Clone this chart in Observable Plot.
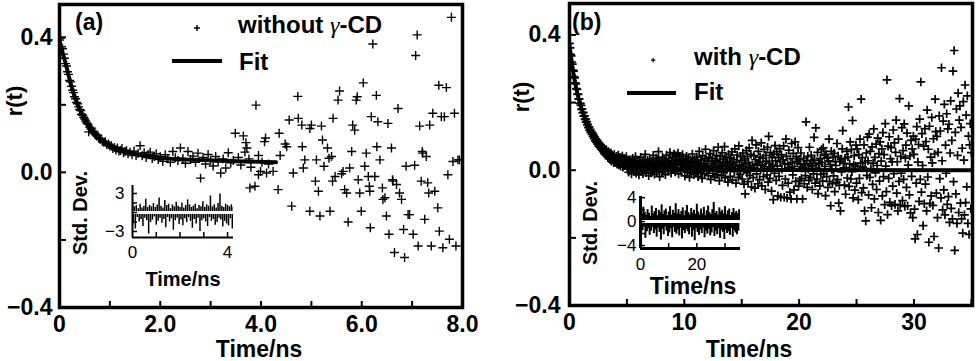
<!DOCTYPE html>
<html><head><meta charset="utf-8">
<script src="https://cdn.jsdelivr.net/npm/d3@7"></script>
<script src="https://cdn.jsdelivr.net/npm/@observablehq/plot@0.6"></script>
<style>
html,body{margin:0;padding:0;background:#fff;}
#root{position:relative;width:976px;height:361px;overflow:hidden;font-family:"Liberation Sans",Arial,Helvetica,sans-serif;font-weight:bold;color:#000;background:#fff;}
#root > svg{position:absolute;}
.lbl{position:absolute;white-space:nowrap;line-height:1;}
.g{font-family:"Liberation Serif","DejaVu Serif",serif;font-style:italic;font-weight:normal;}
.legline{position:absolute;background:#000;}
</style></head><body><div id="root"></div>
<script>
// ---------------- DATA ----------------
// Panel (a): without gamma-CD, measured anisotropy r(t) [time ns, r]
const pointsA = [
[0.00,0.392],[0.02,0.398],[0.04,0.372],[0.06,0.366],[0.08,0.350],[0.10,0.338],[0.12,0.322],[0.14,0.315],[0.16,0.298],[0.18,0.290],
[0.20,0.272],[0.22,0.268],[0.24,0.255],[0.26,0.243],[0.28,0.236],[0.30,0.224],[0.32,0.218],[0.34,0.207],[0.36,0.203],[0.38,0.194],
[0.40,0.186],[0.42,0.183],[0.44,0.172],[0.46,0.169],[0.48,0.163],[0.50,0.158],[0.52,0.152],[0.54,0.146],[0.56,0.143],[0.58,0.120],
[0.60,0.134],[0.62,0.128],[0.64,0.131],[0.66,0.121],[0.68,0.118],[0.70,0.114],[0.72,0.112],[0.74,0.108],[0.76,0.110],[0.78,0.101],
[0.80,0.099],[0.82,0.098],[0.85,0.092],[0.88,0.089],[0.91,0.091],[0.94,0.082],[0.97,0.084],[1.00,0.078],[1.03,0.079],[1.06,0.071],
[1.09,0.074],[1.12,0.066],[1.15,0.072],[1.18,0.063],[1.21,0.065],[1.24,0.071],[1.27,0.058],[1.30,0.061],[1.33,0.064],[1.36,0.055],
[1.40,0.060],[1.44,0.052],[1.48,0.063],[1.52,0.050],[1.56,0.056],[1.60,0.079],[1.64,0.049],[1.68,0.058],[1.72,0.044],[1.76,0.053],
[1.80,0.060],[1.84,0.041],[1.88,0.047],[1.92,0.055],[1.96,0.038],[2.00,0.046],[2.05,0.033],[2.10,0.052],[2.15,0.040],[2.20,0.030],
[2.25,0.062],[2.30,0.043],[2.35,0.035],[2.40,0.072],[2.45,0.041],[2.50,0.027],[2.55,0.062],[2.60,0.038],[2.65,0.048],[2.70,0.030],
[2.75,0.057],[2.80,-0.017],[2.85,0.044],[2.90,0.025],[2.95,0.053],[3.00,0.036],[3.05,0.019],[3.10,0.047],[3.15,0.031],[3.20,-0.002],
[3.25,0.040],[3.30,0.013],[3.35,0.058],[3.40,0.028],[3.45,0.035],[3.49,0.116],[3.55,0.044],[3.60,0.022],[3.65,0.108],[3.68,0.060],
[3.70,0.088],[3.72,0.072],[3.76,0.040],[3.80,0.015],[3.90,0.199],[3.95,0.050],[4.02,0.030],[4.15,0.025],
[3.78,-0.046],[3.88,-0.041],[3.95,-0.007],[3.99,0.003],[4.09,0.102],[4.07,0.091],[4.11,-0.002],[4.24,0.003],[4.36,0.116],[4.38,0.050],
[4.34,-0.051],[4.48,0.084],[4.51,0.076],[4.56,0.155],[4.64,-0.002],[4.61,-0.100],[4.73,0.225],[4.74,0.160],[4.81,0.140],[4.82,0.076],
[4.84,0.013],[4.87,0.037],[4.97,0.130],[5.00,0.140],[4.97,-0.115],[5.08,-0.026],[5.10,0.037],[5.14,-0.056],[5.17,-0.129],[5.20,0.137],
[5.22,0.096],[5.25,0.018],[5.32,0.072],[5.35,0.042],[5.40,0.047],[5.37,-0.115],[5.42,-0.026],[5.43,0.160],[5.47,-0.012],[5.53,0.214],
[5.56,0.241],[5.60,-0.004],[5.63,0.003],[5.66,-0.051],[5.70,-0.061],[5.73,-0.147],[5.76,0.013],[5.80,0.062],[5.82,0.140],[5.86,0.125],
[5.89,0.214],[5.91,0.224],[5.93,-0.022],[5.96,-0.061],[5.99,-0.115],[6.03,0.265],[6.06,0.018],[6.09,0.057],[6.13,-0.012],[6.15,-0.041],
[6.16,-0.056],[6.17,-0.164],[6.19,0.165],[6.22,0.380],[6.26,-0.012],[6.29,0.228],[6.30,0.076],[6.32,0.150],[6.36,0.037],[6.41,-0.046],
[6.42,-0.080],[6.46,-0.075],[6.49,-0.129],[6.52,0.145],[6.54,-0.183],[6.59,0.072],[6.61,-0.022],[6.62,-0.026],[6.65,-0.237],[6.69,-0.036],
[6.72,0.189],[6.75,-0.061],[6.79,-0.080],[6.83,-0.169],[6.85,-0.252],[6.88,0.018],[6.92,-0.125],[6.95,-0.125],[7.02,-0.183],[7.05,0.021],
[7.07,0.346],[7.10,0.407],[7.12,-0.218],[7.15,0.137],[7.18,-0.026],[7.20,0.062],[7.21,0.057],[7.25,-0.139],[7.28,0.047],[7.31,-0.031],
[7.33,-0.061],[7.35,0.140],[7.38,-0.218],[7.41,0.175],[7.45,-0.056],[7.51,-0.105],[7.53,0.258],[7.54,-0.174],[7.58,0.165],[7.61,-0.223],
[7.64,0.165],[7.68,0.251],[7.71,-0.007],[7.74,-0.198],[7.78,0.459],[7.81,0.032],[7.84,0.175],[7.87,-0.218],[7.91,0.037],[7.94,0.037]
];
// Panel (a) fit curve
const fitA_t = [0, 0.06, 0.12, 0.22, 0.32, 0.45, 0.58, 0.75, 0.91, 1.11, 1.38, 1.77, 2.24, 2.90, 3.49, 4.30];
const fitA_r = [0.390, 0.355, 0.323, 0.264, 0.215, 0.171, 0.136, 0.107, 0.087, 0.073, 0.058, 0.048, 0.040, 0.036, 0.033, 0.030];
// Panel (a) inset residuals (Std. Dev.), sampled every 0.04 ns
const resA_dt = 0.04;
const resA = [
1.2,-1.8,0.9,-2.6,1.1,-0.8,0.6,-1.5,1.3,-1.1,0.7,-2.2,1.0,-0.9,2.1,-1.3,0.8,-3.4,1.1,-1.6,
0.9,-1.2,1.4,-0.7,0.8,-2.0,1.2,-1.4,2.3,-0.9,1.0,-1.7,0.7,-1.1,1.9,-2.4,1.1,-0.8,1.3,-1.5,
0.6,-1.0,1.2,-2.8,0.9,-1.3,1.6,-0.9,1.0,-1.9,0.8,-1.2,1.5,-2.1,0.7,-1.0,1.1,-1.6,2.0,-0.8,
1.2,-1.4,0.8,-2.5,1.0,-1.1,1.3,-1.8,0.6,-0.9,1.1,-3.0,0.9,-1.3,1.7,-1.0,0.8,-1.5,1.2,-2.2,
1.0,-0.8,2.6,-1.4,0.9,-1.1,1.2,-2.0,0.7,-1.6,1.4,-0.9,2.9,-1.2,1.0,-2.3,0.8,-1.4,1.3,-1.8,
1.1,-2.1,0.9,-1.0,1.2,-2.6,0.8,-1.3];

// Panel (b): with gamma-CD, r(t) sampled every 0.05 ns
const rB_dt = 0.05;
const rB = [
.375,.362,.343,.338,.320,.314,.296,.293,.277,.273,.258,.255,.241,.239,.225,.224,.211,.210,.198,.197,
.192,.180,.181,.170,.171,.160,.161,.150,.152,.142,.144,.134,.136,.126,.128,.118,.121,.112,.115,.106,
.110,.099,.104,.093,.098,.087,.093,.082,.088,.077,.083,.071,.079,.068,.076,.063,.071,.060,.067,.055,
.064,.049,.058,.045,.061,.043,.052,.039,.055,.034,.049,.033,.051,.027,.045,.031,.040,.022,.046,.024,
.036,.022,.041,.018,.031,.045,.016,.029,.038,.012,.033,.026,.042,.009,.027,.035,.014,.030,.021,.040,
.018,.004,.027,-.006,.015,.031,.002,.021,-.011,.013,.035,.008,-.004,.024,.011,.040,-.009,.019,.006,.028,
.012,-.014,.026,.009,.038,-.003,.017,.022,-.010,.031,.005,.014,.047,-.007,.020,.002,.029,.011,-.016,.024,
.033,.006,-.008,.019,.027,.001,.044,.013,-.012,.022,.009,.036,-.004,.016,.029,.055,.003,-.019,.021,.010,
.025,-.006,.039,.014,.002,.031,.018,-.013,.026,.045,.007,.020,-.003,.034,.011,.052,.016,-.009,.028,.004,
.037,.012,.048,.021,-.005,.043,.017,.030,.008,.051,-.011,.025,.040,.014,-.002,.033,.019,.046,.006,.022,
.015,-.017,.029,.009,.041,-.006,.022,.035,.003,-.021,.018,.027,-.009,.013,.048,.001,.024,-.013,.032,.011,
-.004,.026,.039,.008,-.019,.021,.056,.012,-.008,.030,.017,-.024,.043,.005,.019,-.011,.034,.062,.009,-.003,
.027,.014,-.016,.038,.002,.049,-.027,.020,.011,.035,-.009,.058,.016,-.020,.029,.007,.044,-.013,.023,.068,
.004,-.031,.025,.041,.010,-.015,.052,.019,-.006,.033,.070,-.022,.014,.039,.001,.026,-.035,.047,.012,.021,
-.018,.036,.008,.054,-.029,.017,.031,-.004,.063,.011,-.038,.024,.045,.003,-.021,.072,.015,-.012,.040,.006,
.029,-.026,.051,.012,-.041,.034,-.070,.019,.058,-.008,.040,-.034,.023,.066,-.015,.009,.047,-.049,.088,.014,
-.022,.043,.007,-.053,.031,.075,-.011,.018,-.040,.056,.024,-.028,.039,.003,.081,-.046,.016,.035,-.019,.062,
.010,-.057,.044,.027,-.014,.068,-.035,.100,.021,-.024,.052,.006,-.062,.037,.015,-.087,.048,-.009,.073,.028,
-.030,.055,.012,-.076,.038,-.018,.064,.025,-.080,.046,.003,-.045,.031,.072,-.080,.019,-.026,.092,.041,-.082,
.017,-.038,.059,.008,-.065,.034,-.085,.079,.022,-.014,.050,-.058,.011,.084,-.033,.040,-.085,.026,.067,-.047,
.032,-.030,.019,.051,-.024,.006,-.085,.009,.035,-.040,.016,-.016,.143,.028,-.051,.041,.004,-.030,.068,.020,
-.022,.044,.013,-.057,.028,-.011,.097,.030,-.038,.125,.006,-.026,.053,-.069,.021,.017,-.046,.035,-.012,.061,
.023,-.032,.066,-.010,.044,.011,-.075,.047,-.019,.036,-.051,.028,.092,-.034,.017,-.105,.056,.002,-.040,.039,
-.017,.050,-.063,.025,.014,-.036,.079,-.028,.042,-.097,-.045,.026,-.120,.033,-.005,.063,.117,.020,.007,-.044,
.035,-.071,.008,.056,-.023,.039,.187,-.048,.019,.084,-.026,.061,-.004,.147,-.082,.016,.043,-.059,.012,.074,
-.038,.063,.011,-.087,.046,-.024,.092,.021,.210,-.066,.037,.009,-.052,.075,-.120,.023,-.150,.051,-.015,.098,
.028,-.073,.107,-.021,.056,.005,-.111,.069,-.042,.021,.122,-.085,.038,-.008,.077,-.057,.014,.095,-.125,.049,
-.032,.084,-.148,.027,.063,-.076,.111,-.019,.046,-.102,.138,.012,-.063,.267,-.131,.071,-.024,.099,-.095,.034,
.067,-.105,.025,-.047,.119,-.010,.081,-.101,.053,.148,-.068,.025,-.120,.092,-.033,.212,-.104,.041,-.009,.126,
-.090,.058,-.027,.137,-.107,.036,.074,-.051,.110,-.105,.015,.190,-.073,.042,-.126,.088,-.018,.063,-.140,.101,
.047,-.115,-.203,.092,-.038,.129,-.190,.024,.076,-.092,.151,-.027,.261,-.065,.108,.014,-.164,.071,-.099,.123,
-.041,.085,-.120,.178,-.020,.062,-.213,.130,-.098,.039,-.076,.156,.022,-.104,.093,-.196,.048,.210,.114,-.068,
.100,-.140,.053,-.230,.161,-.025,.116,-.082,.303,.028,-.117,.145,-.058,.195,-.132,.074,-.009,.167,-.101,.122,
-.078,.136,-.154,.051,.205,-.113,.088,-.144,.293,-.034,.354,-.237,.112,-.070,.181,-.157,.044,.228,-.125,.148,
.190,-.097,.127,-.144,.065,-.186,.203,.030,-.132,.252,-.096,.163,-.049,.220,-.157,.101,-.190,.075,.138,-.114,
.052];
// Panel (b) fit curve
const fitB_t = [0, 0.38, 0.81, 1.25, 1.83, 2.41, 3.14, 4.00, 5.47, 7.0, 9.0, 35.0];
const fitB_r = [0.372, 0.278, 0.210, 0.161, 0.113, 0.079, 0.050, 0.030, 0.011, 0.004, 0.001, 0.000];
// Panel (b) inset residuals, sampled every 0.25 ns
const resB_dt = 0.25;
const resB = [
1.8,-2.1,1.2,-1.5,2.4,-0.9,1.6,-2.8,1.1,-1.7,2.0,-1.2,1.4,-2.3,0.9,-1.6,2.6,-1.0,1.3,-2.0,
1.7,-1.4,2.2,-2.6,1.0,-1.1,1.9,-1.8,1.5,-3.1,2.8,-1.3,1.2,-2.2,1.8,-0.9,2.1,-1.6,1.0,-2.5,
1.6,-1.9,2.5,-1.2,1.1,-2.7,1.9,-1.0,1.4,-1.8,3.0,-2.1,1.3,-1.4,2.0,-2.4,1.2,-1.1,1.7,-2.9,
2.3,-1.5,1.0,-2.0,1.8,-1.3,2.7,-1.7,1.5,-2.2,1.1,-1.0,2.2,-2.6,1.4,-1.5,1.9,-3.2,1.2,-1.2,
2.9,-1.8,1.6,-2.3,1.1,-1.4,2.1,-2.0,1.3,-1.1,2.4,-2.7,1.0,-1.6,1.8,-2.1,2.6,-1.3,1.5,-2.4,
1.2,-1.9,2.0,-1.0,3.2,-2.5,1.4,-1.6,1.7,-2.2,1.1,-1.2,2.3,-2.8,1.6,-1.5,1.9,-1.8,1.3,-3.0,
2.5,-1.4,1.2,-2.0,1.8,-1.7,2.1,-2.3,1.0,-1.1,1.5,-2.6,2.2,-1.5,1.4,-1.9,1.7,-2.2,1.3,-1.6,
2.0];

// Tick values
const xTicksA = [0,1,2,3,4,5,6,7,8];
const xLabelsA = [0,2,4,6,8];
const xTicksB = [0,5,10,15,20,25,30,35];
const xLabelsB = [0,10,20,30];
const yTicks = [-0.4,-0.2,0,0.2,0.4];
const yLabels = [-0.4,0,0.4];
const insetA_xTicks = [1,2,3,4], insetA_xLabels = [0,4], insetA_yTicks = [3,1.5,0,-1.5,-3], insetA_yLabels = [3,-3];
const insetB_xTicks = [10,20,30], insetB_xLabels = [0,20], insetB_yTicks = [4,2,0,-2,-4], insetB_yLabels = [4,0,-4];

// ---------------- DRAWING ----------------
const FONT = '"Liberation Sans", Arial, Helvetica, sans-serif';
const root = document.getElementById("root");
const fmtY = d => (d < 0 ? "\u2212" : "") + Math.abs(d).toFixed(1);
const fmtXA = d => d === 0 ? "0" : d.toFixed(1);
const fmtInt = d => (d < 0 ? "\u2212" : "") + Math.abs(d);
const STYLE = {fontFamily: FONT, background: "transparent", overflow: "visible", color: "black"};

function place(el, left, top) {
  el.style.position = "absolute"; el.style.left = left + "px"; el.style.top = top + "px";
  root.appendChild(el);
}

function mainPanel({points, fitT, fitR, xDomain, yDomain, xTicks, xLabels, xFmt, ml, mr, mt, mb, r, sw, ypad}) {
  const W = 488, H = 361, fw = W - ml - mr, fh = H - mt - mb;
  return Plot.plot({
    width: W, height: H, marginLeft: ml, marginRight: mr, marginTop: mt, marginBottom: mb,
    x: {domain: xDomain}, y: {domain: yDomain}, style: STYLE,
    marks: [
      Plot.dot(points, {x: d => d[0], y: d => d[1], symbol: "plus", r, stroke: "black", strokeWidth: sw, clip: true}),
      Plot.line(fitT, {x: (d) => d, y: (d, i) => fitR[i], stroke: "black", strokeWidth: 3.8, curve: "monotone-x", clip: true}),
      Plot.ruleX(xTicks, {stroke: "black", strokeWidth: 2, insetTop: fh - 6}),
      Plot.ruleY(yTicks, {stroke: "black", strokeWidth: 2, insetRight: fw - 7}),
      Plot.frame({stroke: "black", strokeWidth: 3.5}),
      Plot.axisX({ticks: xLabels, tickFormat: xFmt, tickSize: 0, tickPadding: 8, fontSize: 23, fontWeight: "bold", label: null}),
      Plot.axisY({ticks: yLabels, tickFormat: fmtY, tickSize: 0, tickPadding: ypad, fontSize: 23, fontWeight: "bold", label: null})
    ]
  });
}

function insetPanel({res, dt, W, H, ml, mr, mt, mb, xDomain, yDomain, xTicks, xLabels, yTicks, yLabels, lw, sw, xpad, ypad}) {
  const fw = W - ml - mr, fh = H - mt - mb;
  return Plot.plot({
    width: W, height: H, marginLeft: ml, marginRight: mr, marginTop: mt, marginBottom: mb,
    x: {domain: xDomain}, y: {domain: yDomain}, style: STYLE,
    marks: [
      Plot.ruleX(res, {x: (d, i) => i * dt, y1: 0, y2: d => d, stroke: "black", strokeWidth: sw, clip: true}),
      Plot.ruleY([0], {stroke: "white", strokeWidth: 3}),
      Plot.ruleX(xTicks, {stroke: "black", strokeWidth: 1.5, insetTop: fh - 5}),
      Plot.ruleY(yTicks, {stroke: "black", strokeWidth: 1.5, insetRight: fw - 5}),
      Plot.ruleX([xDomain[0]], {stroke: "black", strokeWidth: lw}),
      Plot.ruleY([yDomain[0]], {stroke: "black", strokeWidth: lw}),
      Plot.axisX({ticks: xLabels, tickFormat: fmtInt, tickSize: 0, tickPadding: xpad, fontSize: 17, fontWeight: "normal", label: null}),
      Plot.axisY({ticks: yLabels, tickFormat: fmtInt, tickSize: 0, tickPadding: ypad, fontSize: 17, fontWeight: "normal", label: null})
    ]
  });
}

const plotA = mainPanel({points: pointsA, fitT: fitA_t, fitR: fitA_r, xDomain: [0, 8], yDomain: [-0.4, 0.497],
  xTicks: xTicksA, xLabels: xLabelsA, xFmt: fmtXA, ml: 59, mr: 26, mt: 4, mb: 54, r: 3, sw: 1.4, ypad: 7});
place(plotA, 0, 0);

const pointsB = rB.map((v, i) => [i * rB_dt, v]);
const plotB = mainPanel({points: pointsB, fitT: fitB_t, fitR: fitB_r, xDomain: [0, 35.1], yDomain: [-0.4, 0.493],
  xTicks: xTicksB, xLabels: xLabelsB, xFmt: d => String(d), ml: 81, mr: 4, mt: 3, mb: 56, r: 2.9, sw: 1.7, ypad: 9});
place(plotB, 488, 0);

const insA = insetPanel({res: resA, dt: resA_dt, W: 170, H: 120, ml: 52, mr: 17, mt: 10, mb: 58,
  xDomain: [0, 4.25], yDomain: [-3.95, 4.26], xTicks: insetA_xTicks, xLabels: insetA_xLabels,
  yTicks: insetA_yTicks, yLabels: insetA_yLabels, lw: 2, sw: 1.5, xpad: 8, ypad: 8});
place(insA, 80, 175);

const insB = insetPanel({res: resB, dt: resB_dt, W: 150, H: 110, ml: 40, mr: 10, mt: 10, mb: 48,
  xDomain: [0, 35.5], yDomain: [-4.5, 4.2], xTicks: insetB_xTicks, xLabels: insetB_xLabels,
  yTicks: insetB_yTicks, yLabels: insetB_yLabels, lw: 3, sw: 2, xpad: 9, ypad: 4});
place(insB, 600, 186);

// ---------------- TEXT / LEGENDS ----------------
function label(html, x, y, {size = 24, anchor = "start", rotate = false, weight = "bold"} = {}) {
  const d = document.createElement("div");
  d.className = "lbl";
  d.style.left = x + "px"; d.style.top = y + "px";
  d.style.fontSize = size + "px"; d.style.fontWeight = weight;
  if (rotate) d.style.transform = "translate(-50%,-50%) rotate(-90deg)";
  else d.style.transform = anchor === "middle" ? "translate(-50%,-50%)" : "translate(0,-50%)";
  d.innerHTML = html;
  root.appendChild(d);
}
function legLine(x, y, w, h) {
  const d = document.createElement("div");
  d.className = "legline";
  d.style.left = x + "px"; d.style.top = (y - h / 2) + "px";
  d.style.width = w + "px"; d.style.height = h + "px";
  root.appendChild(d);
}
function legPlus(cx, cy, r, sw) {
  const ns = "http://www.w3.org/2000/svg";
  const s = document.createElementNS(ns, "svg");
  s.setAttribute("width", 2 * r + 4); s.setAttribute("height", 2 * r + 4);
  s.style.position = "absolute"; s.style.left = (cx - r - 2) + "px"; s.style.top = (cy - r - 2) + "px";
  const p = document.createElementNS(ns, "path");
  const c = r + 2;
  p.setAttribute("d", `M${c - r},${c}H${c + r}M${c},${c - r}V${c + r}`);
  p.setAttribute("stroke", "black"); p.setAttribute("stroke-width", sw);
  s.appendChild(p);
  root.appendChild(s);
}

// Panel (a)
label("(a)", 75, 22, {size: 23});
legPlus(197, 28, 3, 1.4);
label('without <span class="g">\u03b3</span>-CD', 238, 25, {size: 24});
legLine(172, 61, 50, 4);
label("Fit", 239, 62, {size: 24});
label("Time/ns", 259, 349, {size: 23, anchor: "middle"});
label("r(t)", 15, 101, {size: 22, rotate: true});
label("Std. Dev.", 80, 213, {size: 20, rotate: true});
label("Time/ns", 183, 279, {size: 20, anchor: "middle"});

// Panel (b)
label("(b)", 572, 22, {size: 23});
legPlus(653, 60, 2.2, 1.2);
label('with <span class="g">\u03b3</span>-CD', 694, 57, {size: 24});
legLine(627, 93, 49, 4);
label("Fit", 694, 92, {size: 24});
label("Time/ns", 749, 349, {size: 23, anchor: "middle"});
label("r(t)", 522, 97, {size: 22, rotate: true});
label("Std. Dev.", 590, 223, {size: 20, rotate: true});
label("Time/ns", 693, 286, {size: 23, anchor: "middle"});
</script></body></html>
